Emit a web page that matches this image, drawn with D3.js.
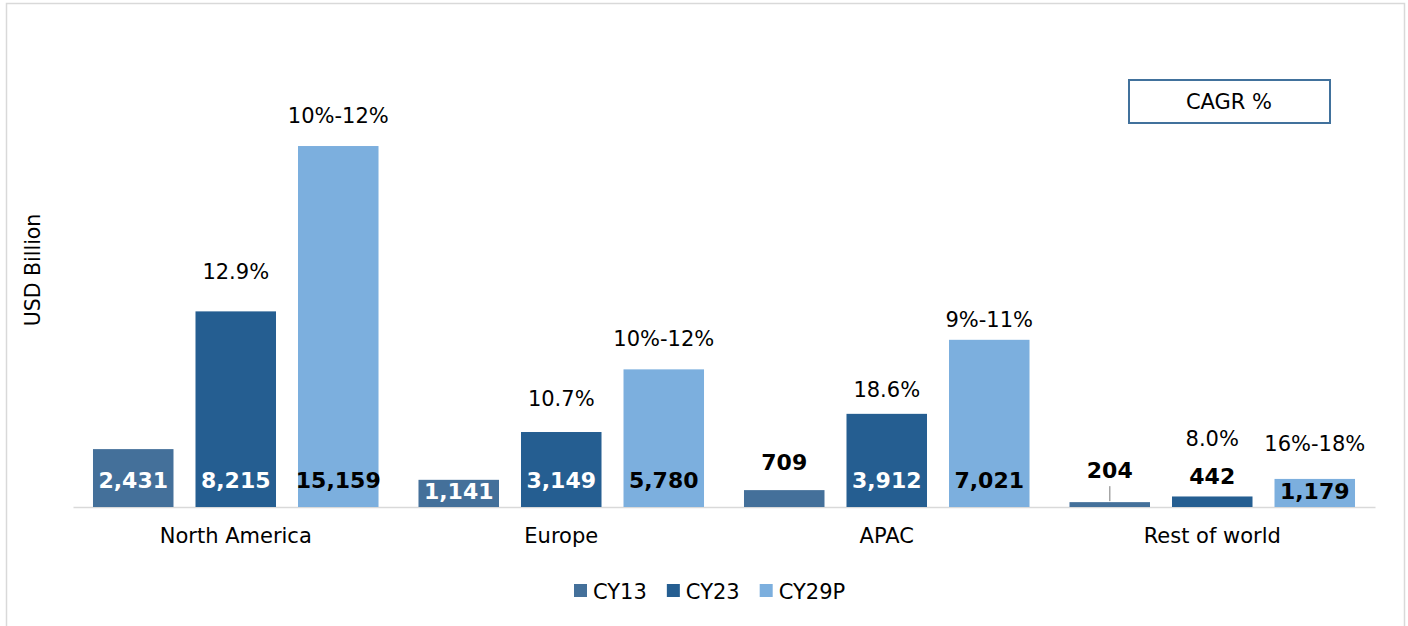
<!DOCTYPE html>
<html>
<head>
<meta charset="utf-8">
<script src="https://cdn.jsdelivr.net/npm/d3@7/dist/d3.min.js"></script>
<style>
  html, body { margin: 0; padding: 0; background: #fff; }
  svg { display: block; font-family: "DejaVu Sans", Verdana, sans-serif; }
</style>
</head>
<body>
<svg id="chart" width="1408" height="626"></svg>
<script>
// chart values
const regions = ["North America", "Europe", "APAC", "Rest of world"];
const seriesNames = ["CY13", "CY23", "CY29P"];
const cy13 = [2431, 1141, 709, 204];
const cy23 = [8215, 3149, 3912, 442];
const cy29p = [15159, 5780, 7021, 1179];
const cagr23 = ["12.9%", "10.7%", "18.6%", "8.0%"];
const cagr29p = ["10%-12%", "10%-12%", "9%-11%", "16%-18%"];

// styling / hand placement (like the labels were dragged in the original)
const colors = { CY13: "#44709a", CY23: "#255e91", CY29P: "#7cafde" };
const valueColor = { CY13: "#fff", CY23: "#fff", CY29P: "#000" };
const cagrLift = [[40, 31], [34, 31], [24, 20], [58, 35]]; // px above bar top to label centre
const outsideLift = { "APAC|CY13": 28, "Rest of world|CY13": 32, "Rest of world|CY23": 20 };

const svg = d3.select("#chart");
const base = 507;

// light frame
svg.append("rect")
  .attr("x", 6.5).attr("y", 3.5)
  .attr("width", 1398).attr("height", 660)
  .attr("fill", "none").attr("stroke", "#d9d9d9").attr("stroke-width", 1.5);

const x0 = d3.scaleBand().domain(regions).range([73, 1375]);
const x1 = d3.scaleBand().domain(seriesNames)
  .range([0, x0.bandwidth()])
  .paddingInner(0.2146).paddingOuter(0.195);
const y = d3.scaleLinear().domain([0, 16000]).range([base, 126]);

const rows = regions.map((r, i) => ({
  region: r,
  idx: i,
  values: [
    { key: "CY13", v: cy13[i] },
    { key: "CY23", v: cy23[i], cagr: cagr23[i], lift: cagrLift[i][0] },
    { key: "CY29P", v: cy29p[i], cagr: cagr29p[i], lift: cagrLift[i][1] },
  ],
}));

// x axis (no ticks, gray base line)
const xAxis = svg.append("g")
  .attr("transform", `translate(0,${base})`)
  .call(d3.axisBottom(x0).tickSize(0).tickPadding(21));
xAxis.select(".domain").attr("stroke", "#d9d9d9").attr("stroke-width", 1.5);
xAxis.selectAll("text")
  .attr("font-size", 21).attr("fill", "#000")
  .attr("font-family", "DejaVu Sans, sans-serif");

const groups = svg.selectAll("g.region")
  .data(rows)
  .enter()
  .append("g")
  .attr("class", "region")
  .attr("transform", (d) => `translate(${x0(d.region)},0)`);

groups.selectAll("rect.bar")
  .data((d) => d.values.map((v) => ({ ...v, region: d.region })))
  .enter()
  .append("rect")
  .attr("class", "bar")
  .attr("x", (d) => x1(d.key))
  .attr("y", (d) => y(d.v))
  .attr("width", x1.bandwidth())
  .attr("height", (d) => base - y(d.v))
  .attr("fill", (d) => colors[d.key]);

// value labels: inside base when they fit, otherwise above the bar
groups.each(function (row) {
  const g = d3.select(this);
  row.values.forEach((d) => {
    const cx = x1(d.key) + x1.bandwidth() / 2;
    const top = y(d.v);
    const h = base - top;
    const fmt = d3.format(",")(d.v);
    const key = row.region + "|" + d.key;
    let cy, fill;
    if (h >= 22) {
      cy = Math.max(base - 26.5, top + h / 2 - 2);
      fill = valueColor[d.key];
    } else {
      const lift = outsideLift[key] || 26;
      cy = top - lift;
      fill = "#000";
      if (lift > 30) {
        // leader line down to the thin bar
        g.append("line")
          .attr("x1", cx).attr("x2", cx)
          .attr("y1", cy + 16).attr("y2", top - 1)
          .attr("stroke", "#a6a6a6").attr("stroke-width", 1.5);
      }
    }
    g.append("text")
      .attr("x", cx).attr("y", cy).attr("dy", "0.36em")
      .attr("text-anchor", "middle")
      .attr("font-size", 22).attr("font-weight", "bold")
      .attr("fill", fill)
      .text(fmt);

    if (d.cagr) {
      g.append("text")
        .attr("x", cx).attr("y", top - d.lift).attr("dy", "0.36em")
        .attr("text-anchor", "middle")
        .attr("font-size", 21).attr("fill", "#000")
        .text(d.cagr);
    }
  });
});

// y axis title
svg.append("text")
  .attr("transform", "translate(33,270) rotate(-90)")
  .attr("text-anchor", "middle").attr("dy", "0.36em")
  .attr("font-size", 20.5).attr("fill", "#000")
  .text("USD Billion");

// CAGR box
svg.append("rect")
  .attr("x", 1129).attr("y", 80).attr("width", 201).attr("height", 43)
  .attr("fill", "#fff").attr("stroke", "#41719c").attr("stroke-width", 2);
svg.append("text")
  .attr("x", 1229).attr("y", 101.5).attr("dy", "0.36em")
  .attr("text-anchor", "middle").attr("font-size", 21).attr("fill", "#000")
  .text("CAGR %");

// legend
const legend = svg.append("g").attr("transform", "translate(574,591)");
let lx = 0;
seriesNames.forEach((s) => {
  const item = legend.append("g").attr("transform", `translate(${lx},0)`);
  item.append("rect")
    .attr("x", 0).attr("y", -7).attr("width", 13).attr("height", 13)
    .attr("fill", colors[s]);
  const t = item.append("text")
    .attr("x", 19).attr("y", 0).attr("dy", "0.36em")
    .attr("font-size", 21).attr("fill", "#000")
    .text(s);
  lx += 19 + t.node().getComputedTextLength() + 20;
});
</script>
</body>
</html>
